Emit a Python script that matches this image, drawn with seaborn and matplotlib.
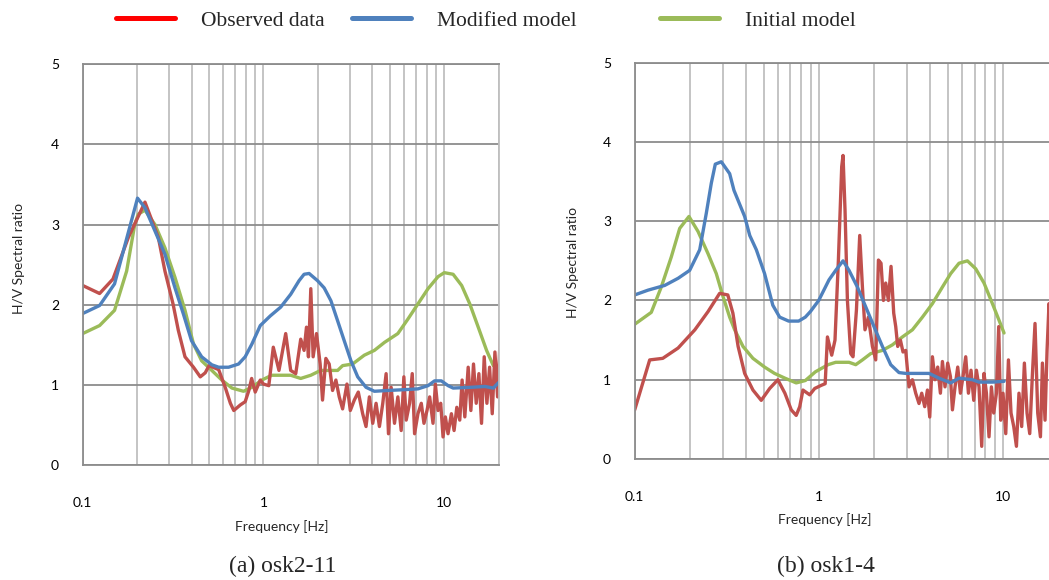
import numpy as np
import pandas as pd
import matplotlib
matplotlib.use("Agg")
import matplotlib.pyplot as plt
import seaborn as sns
from matplotlib.ticker import FixedLocator, LogLocator, NullFormatter
from matplotlib.lines import Line2D

sns.set_style("white")
plt.rcParams['font.family'] = ['Lato', 'DejaVu Sans']

# ---------------- data ----------------
legend_labels = ["Observed data", "Modified model", "Initial model"]
panel_titles = ["(a) osk2-11", "(b) osk1-4"]
x_label = "Frequency [Hz]"
y_label = "H/V Spectral ratio"
x_ticks = [0.1, 1, 10]
x_tick_labels = ["0.1", "1", "10"]
y_ticks = [0, 1, 2, 3, 4, 5]

# (a) osk2-11 : observed
a_obs_f = [0.100, 0.124, 0.147, 0.179, 0.221, 0.262, 0.285, 0.316, 0.338, 0.368,
           0.410, 0.447, 0.476, 0.500, 0.565, 0.614, 0.656, 0.685, 0.745, 0.792,
           0.830, 0.860, 0.900, 0.960, 1.000, 1.070,
           1.133, 1.218, 1.327, 1.414, 1.508, 1.607, 1.677, 1.729, 1.773, 1.827,
           1.882, 1.964, 2.058, 2.121, 2.213, 2.309, 2.410, 2.515, 2.624, 2.739,
           2.895, 3.021, 3.179, 3.345, 3.537, 3.691, 3.852, 4.020, 4.195, 4.378,
           4.569, 4.768, 4.913, 5.083, 5.305, 5.536, 5.777, 5.977, 6.158, 6.427,
           6.650, 6.851, 7.150, 7.462, 7.721, 8.024, 8.302, 8.664, 8.926, 9.235,
           9.555, 9.844, 10.14, 10.49, 10.95, 11.33, 11.73, 12.18, 12.55, 12.99,
           13.56, 14.03, 14.51, 15.02, 15.54, 16.07, 16.63, 17.21, 17.81, 18.42,
           19.06, 19.72, 20.41]
a_obs_v = [2.24, 2.14, 2.32, 2.84, 3.28, 2.84, 2.42, 2.01, 1.68, 1.35,
           1.22, 1.10, 1.15, 1.24, 1.19, 0.97, 0.77, 0.68, 0.75, 0.79,
           0.93, 1.08, 0.91, 1.06, 1.01, 0.99,
           1.47, 1.18, 1.64, 1.18, 1.14, 1.57, 1.43, 1.72, 1.35, 2.20,
           1.35, 1.64, 1.26, 0.81, 1.33, 1.26, 0.93, 1.06, 0.85, 0.70,
           1.01, 0.68, 0.81, 0.91, 0.64, 0.48, 0.85, 0.52, 0.77, 0.48,
           0.77, 1.14, 0.39, 0.97, 0.52, 0.85, 0.43, 1.10, 0.56, 0.77,
           1.14, 0.39, 0.64, 0.77, 0.52, 0.68, 0.85, 0.52, 1.01, 0.68,
           0.77, 0.35, 0.60, 0.39, 0.64, 0.43, 0.72, 0.56, 1.06, 0.60,
           1.22, 0.68, 1.26, 0.77, 1.14, 0.52, 1.35, 0.77, 1.22, 0.64,
           1.41, 0.85, 1.61]

# (a) osk2-11 : modified model
a_mod_f = [0.100, 0.124, 0.150, 0.201, 0.221, 0.251, 0.285, 0.324, 0.361, 0.400,
           0.455, 0.518, 0.565, 0.641, 0.728, 0.792, 0.863, 0.960, 1.090, 1.245,
           1.414, 1.573, 1.677, 1.788, 1.990, 2.166, 2.360, 2.570, 2.797, 3.047,
           3.320, 3.690, 4.105, 4.874, 6.030, 7.150, 8.130, 8.840, 9.630, 10.50,
           11.19, 14.15, 16.77, 18.67, 20.00]
a_mod_v = [1.89, 1.99, 2.26, 3.33, 3.21, 2.92, 2.63, 2.21, 1.88, 1.55,
           1.35, 1.25, 1.22, 1.22, 1.26, 1.35, 1.51, 1.74, 1.86, 1.97,
           2.13, 2.30, 2.38, 2.39, 2.30, 2.21, 2.05, 1.80, 1.55, 1.30,
           1.10, 0.97, 0.92, 0.93, 0.94, 0.95, 0.99, 1.05, 1.05, 0.99,
           0.96, 0.97, 0.98, 0.96, 1.03]

# (a) osk2-11 : initial model
a_ini_f = [0.100, 0.124, 0.150, 0.175, 0.194, 0.203, 0.221, 0.251, 0.285, 0.324,
           0.368, 0.410, 0.455, 0.518, 0.588, 0.669, 0.776, 0.863, 0.980, 1.110,
           1.414, 1.607, 1.827, 2.070, 2.570, 2.740, 3.110, 3.610, 4.105, 4.670,
           5.536, 6.290, 7.150, 8.130, 9.235, 10.00, 11.19, 12.48, 13.84, 15.41,
           17.14, 18.67]
a_ini_v = [1.64, 1.74, 1.93, 2.42, 3.00, 3.13, 3.18, 3.00, 2.71, 2.34,
           1.93, 1.51, 1.30, 1.18, 1.06, 0.96, 0.92, 0.97, 1.06, 1.12,
           1.12, 1.08, 1.12, 1.18, 1.18, 1.24, 1.26, 1.37, 1.43, 1.53,
           1.64, 1.82, 2.01, 2.20, 2.35, 2.40, 2.38, 2.24, 2.01, 1.72,
           1.43, 1.24]

# (b) osk1-4 : observed
b_obs_f = [0.100, 0.1206, 0.142, 0.172, 0.212, 0.250, 0.289, 0.320, 0.341, 0.364,
           0.395, 0.438, 0.486, 0.540, 0.598, 0.653, 0.707, 0.752, 0.786, 0.818,
           0.890, 0.948, 1.030, 1.080,
           1.111, 1.172, 1.221, 1.274, 1.328, 1.350, 1.384, 1.426, 1.486, 1.529,
           1.596, 1.663, 1.720, 1.776, 1.854, 1.949, 2.031, 2.101, 2.170, 2.236,
           2.301, 2.380, 2.459, 2.543, 2.608, 2.673, 2.765, 2.856, 2.954, 3.078,
           3.212, 3.347, 3.488, 3.608, 3.746, 3.875, 3.988, 4.124, 4.260, 4.406,
           4.557, 4.673, 4.827, 4.992, 5.164, 5.295, 5.470, 5.658, 5.852, 6.045,
           6.252, 6.467, 6.680, 6.910, 7.145, 7.381, 7.635, 7.857, 8.096, 8.364,
           8.618, 8.870, 9.175, 9.441, 9.680, 9.963, 10.31, 10.66, 11.01, 11.39,
           11.78, 12.16, 12.58, 13.01, 13.45, 13.91, 14.39, 14.86, 15.37, 15.90,
           16.30, 16.84, 17.27, 17.70, 18.30, 19.00, 20.00]
b_obs_v = [0.62, 1.25, 1.27, 1.40, 1.63, 1.86, 2.09, 2.07, 1.84, 1.42,
           1.08, 0.87, 0.74, 0.89, 1.00, 0.83, 0.62, 0.55, 0.66, 0.87,
           0.81, 0.89, 0.93, 0.95,
           1.54, 1.31, 1.50, 2.51, 3.69, 3.83, 3.14, 2.00, 1.33, 1.29,
           1.88, 2.82, 2.17, 1.63, 1.79, 1.42, 1.25, 2.51, 2.47, 2.00,
           2.22, 2.00, 2.43, 1.84, 1.67, 1.42, 1.50, 1.35, 1.37, 0.91,
           1.00, 0.83, 0.70, 0.83, 0.66, 0.87, 0.53, 1.29, 1.00, 1.16,
           0.83, 1.23, 0.91, 1.21, 1.04, 0.62, 0.91, 1.16, 0.83, 1.04,
           1.29, 0.83, 1.12, 0.74, 1.12, 0.91, 0.16, 1.08, 0.83, 0.28,
           0.91, 0.58, 0.83, 1.67, 0.49, 0.83, 0.32, 1.25, 0.58, 0.41,
           0.16, 0.83, 0.41, 1.21, 0.58, 0.32, 1.08, 1.71, 0.58, 0.28,
           1.21, 0.49, 1.37, 1.96, 0.90, 1.40, 0.80]

# (b) osk1-4 : modified model
b_mod_f = [0.100, 0.118, 0.1455, 0.172, 0.1987, 0.2253, 0.2446, 0.2604, 0.2737, 0.295,
           0.3275, 0.3456, 0.395, 0.421, 0.457, 0.5065, 0.5615, 0.6114, 0.6845, 0.7755,
           0.843, 0.898, 0.996, 1.133, 1.232, 1.350, 1.455, 1.615, 1.792, 1.988,
           2.208, 2.449, 2.717, 2.954, 3.953, 4.478, 5.184, 5.750, 6.798, 7.381,
           8.728, 10.09]
b_mod_v = [2.07, 2.13, 2.19, 2.28, 2.38, 2.64, 3.10, 3.48, 3.72, 3.75,
           3.60, 3.39, 3.06, 2.82, 2.64, 2.34, 1.94, 1.79, 1.74, 1.74,
           1.79, 1.86, 2.00, 2.26, 2.38, 2.50, 2.38, 2.17, 1.92, 1.67,
           1.42, 1.19, 1.09, 1.08, 1.08, 1.02, 0.96, 1.02, 1.00, 0.97,
           0.97, 0.98]

# (b) osk1-4 : initial model
b_ini_f = [0.100, 0.123, 0.1394, 0.158, 0.1755, 0.197, 0.2207, 0.250, 0.277, 0.3014,
           0.3275, 0.3487, 0.3869, 0.438, 0.5065, 0.5737, 0.653, 0.752, 0.843, 0.956,
           1.120, 1.232, 1.455, 1.582, 1.720, 1.908, 2.208, 2.502, 2.835, 3.212,
           3.640, 4.124, 4.673, 5.184, 5.750, 6.387, 7.084, 7.857, 8.728, 9.480,
           10.09]
b_ini_v = [1.70, 1.85, 2.17, 2.55, 2.91, 3.06, 2.87, 2.59, 2.34, 2.05,
           1.79, 1.63, 1.42, 1.27, 1.16, 1.08, 1.02, 0.96, 0.99, 1.10,
           1.19, 1.22, 1.22, 1.19, 1.25, 1.33, 1.37, 1.44, 1.54, 1.63,
           1.79, 1.96, 2.17, 2.34, 2.47, 2.50, 2.40, 2.22, 1.96, 1.75,
           1.59]

# ---------------- style ----------------
COL_OBS = "#C0504D"
COL_MOD = "#4F81BD"
COL_INI = "#9BBB59"
LEG_OBS = "#FF0000"
GRID_V = "#BFBFBF"
GRID_H = "#8C8C8C"
LW = 2.4

W, H = 1049, 580
fig = plt.figure(figsize=(W / 100, H / 100), dpi=100)
fig.patch.set_facecolor("white")


def px_axes(x0, x1, y_top, y_bot):
    return fig.add_axes([x0 / W, 1 - y_bot / H, (x1 - x0) / W, (y_bot - y_top) / H])


ax1 = px_axes(82.7, 498.7, 64.3, 465.0)
ax2 = px_axes(634.7, 1058.8, 62.7, 459.0)


def draw(ax, series):
    for f, v, col in series:
        df = pd.DataFrame({"f": f, "v": v})
        sns.lineplot(data=df, x="f", y="v", ax=ax, color=col, linewidth=LW,
                     estimator=None, sort=False, legend=False)


def style(ax, xpad, ypad):
    ax.set_xscale("log")
    ax.set_xlim(0.1, 20)
    ax.set_ylim(0, 5)
    ax.xaxis.set_major_locator(FixedLocator(x_ticks))
    ax.set_xticklabels(x_tick_labels)
    ax.xaxis.set_minor_locator(LogLocator(base=10, subs=np.arange(2, 10)))
    ax.xaxis.set_minor_formatter(NullFormatter())
    ax.set_yticks(y_ticks)
    ax.set_yticklabels([str(t) for t in y_ticks])
    ax.grid(True, which="both", axis="x", color=GRID_V, linewidth=1.3)
    ax.grid(True, which="major", axis="y", color=GRID_H, linewidth=1.3)
    ax.set_axisbelow(True)
    ax.tick_params(which="both", length=0)
    ax.tick_params(axis="x", pad=xpad, labelsize=10, colors="black")
    ax.tick_params(axis="y", pad=ypad, labelsize=10, colors="black")
    for s in ["left", "bottom", "top"]:
        ax.spines[s].set_color(GRID_H)
        ax.spines[s].set_linewidth(1.3)
    ax.spines["right"].set_color(GRID_V)
    ax.spines["right"].set_linewidth(1.3)
    ax.set_xlabel("")
    ax.set_ylabel("")


draw(ax1, [(a_ini_f, a_ini_v, COL_INI), (a_obs_f, a_obs_v, COL_OBS), (a_mod_f, a_mod_v, COL_MOD)])
draw(ax2, [(b_ini_f, b_ini_v, COL_INI), (b_obs_f, b_obs_v, COL_OBS), (b_mod_f, b_mod_v, COL_MOD)])
style(ax1, 23, 17)
style(ax2, 23, 17)

# axis labels
fig.text(282 / W, 1 - 527 / H, x_label, ha="center", va="center", fontsize=10)
fig.text(825 / W, 1 - 520 / H, x_label, ha="center", va="center", fontsize=10)
fig.text(19 / W, 1 - 258 / H, y_label, ha="center", va="center", rotation=90, fontsize=10)
fig.text(573 / W, 1 - 262 / H, y_label, ha="center", va="center", rotation=90, fontsize=10)

# captions
serif = ["Liberation Serif", "DejaVu Serif"]
fig.text(283 / W, 1 - 566 / H, panel_titles[0], ha="center", va="center", fontsize=17, family=serif)
fig.text(826 / W, 1 - 566 / H, panel_titles[1], ha="center", va="center", fontsize=17, family=serif)

# legend
for label, col, x in zip(legend_labels, [LEG_OBS, COL_MOD, COL_INI], [116, 352, 660]):
    h = Line2D([], [], color=col, linewidth=3.6)
    fig.legend([h], [label], loc="center left", bbox_to_anchor=(x / W, 1 - 21 / H),
               frameon=False, borderpad=0, borderaxespad=0, handlelength=2.75,
               handletextpad=1.2, prop={"family": serif, "size": 15.5})

fig.savefig("out.png", dpi=100, facecolor="white")
